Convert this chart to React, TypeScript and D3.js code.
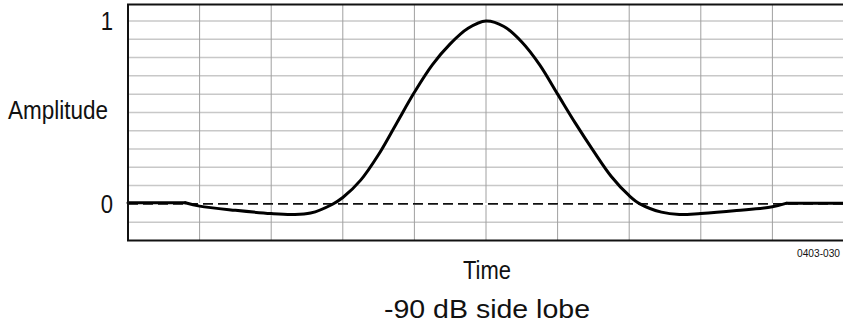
import React from "react";
import * as d3 from "d3";

// Pulse amplitude samples (time in grid divisions 0..10, amplitude)
const times = [0, 0.8, 1.0, 1.5, 2.0, 2.3, 2.55, 2.85, 3.0, 3.25, 3.5, 3.75, 4.0, 4.25, 4.5, 4.75, 5.0, 5.25, 5.5, 5.75, 6.0, 6.25, 6.5, 6.75, 7.0, 7.15, 7.45, 7.7, 8.0, 8.5, 9.0, 9.2, 10];
const amplitude = [0.006, 0.006, -0.012, -0.035, -0.053, -0.058, -0.05, -0.003, 0.035, 0.13, 0.27, 0.44, 0.61, 0.76, 0.875, 0.96, 1.0, 0.97, 0.885, 0.76, 0.6, 0.44, 0.29, 0.15, 0.045, 0.0, -0.045, -0.058, -0.052, -0.036, -0.016, 0.004, 0.004];

const xGrid = [1, 2, 3, 4, 5, 6, 7, 8, 9];
const yGrid = [1.0, 0.9, 0.8, 0.7, 0.6, 0.5, 0.4, 0.3, 0.2, 0.1, 0.0, -0.1];
const yTickLabels = [
  { v: 1, label: "1" },
  { v: 0, label: "0" },
];
const yTitle = "Amplitude";
const xTitle = "Time";
const caption = "-90 dB side lobe";
const figId = "0403-030";

const W = 843;
const H = 326;
const left = 128;
const right = 845;
const top = 4.5;
const bottom = 240.5;

export default function App() {
  const x = d3.scaleLinear().domain([0, 10]).range([left, 844]);
  const y = d3.scaleLinear().domain([-0.2, 1.09]).range([bottom, top]);
  const data = times.map((t, i) => [t, amplitude[i]] as [number, number]);
  const flatL = data.slice(0, 2);
  const mid = data.slice(1, data.length - 1);
  const flatR = data.slice(data.length - 2);
  const straight = d3.line<[number, number]>().x((d) => x(d[0])).y((d) => y(d[1]));
  const smooth = d3
    .line<[number, number]>()
    .x((d) => x(d[0]))
    .y((d) => y(d[1]))
    .curve(d3.curveCatmullRom.alpha(0.5));
  const font = "'Liberation Sans Narrow', 'Liberation Sans', Arial, sans-serif";
  return (
    <svg
      width={W}
      height={H}
      style={{ position: "absolute", left: 0, top: 0, background: "#fff" }}
      fontFamily={font}
    >
      <rect x={0} y={0} width={W} height={H} fill="#fff" />
      {yGrid.map((v) => (
        <line key={"h" + v} x1={left} x2={right} y1={y(v)} y2={y(v)} stroke="#c8c8c8" strokeWidth={1.5} />
      ))}
      {xGrid.map((v) => (
        <line key={"v" + v} x1={x(v)} x2={x(v)} y1={top} y2={bottom} stroke="#a0a0a0" strokeWidth={1} />
      ))}
      <line x1={left} x2={right} y1={y(0)} y2={y(0)} stroke="#fff" strokeWidth={2} />
      <line x1={left} x2={right} y1={y(0)} y2={y(0)} stroke="#111" strokeWidth={1.6} strokeDasharray="10,5" />
      <path d={straight(flatL) || ""} fill="none" stroke="#000" strokeWidth={3} strokeLinecap="round" />
      <path d={smooth(mid) || ""} fill="none" stroke="#000" strokeWidth={3} strokeLinejoin="round" strokeLinecap="round" />
      <path d={straight(flatR) || ""} fill="none" stroke="#000" strokeWidth={3} strokeLinecap="round" />
      <rect x={left} y={top} width={right - left + 5} height={bottom - top} fill="none" stroke="#111" strokeWidth={2} />
      {yTickLabels.map((t) => (
        <text key={t.label} x={113} y={y(t.v) + 9} textAnchor="end" fontSize={26} fill="#111" transform={`translate(${113 * 0.15},0) scale(0.85,1)`}>
          {t.label}
        </text>
      ))}
      <text x={8} y={119} fontSize={26} fill="#111" textLength={100} lengthAdjust="spacingAndGlyphs">
        {yTitle}
      </text>
      <text x={463} y={279} fontSize={26} fill="#111" textLength={48} lengthAdjust="spacingAndGlyphs">
        {xTitle}
      </text>
      <text x={384} y={318} fontSize={26} fill="#111" textLength={206} lengthAdjust="spacingAndGlyphs">
        {caption}
      </text>
      <text x={797} y={257} fontSize={11} fill="#111" textLength={43} lengthAdjust="spacingAndGlyphs">
        {figId}
      </text>
    </svg>
  );
}
